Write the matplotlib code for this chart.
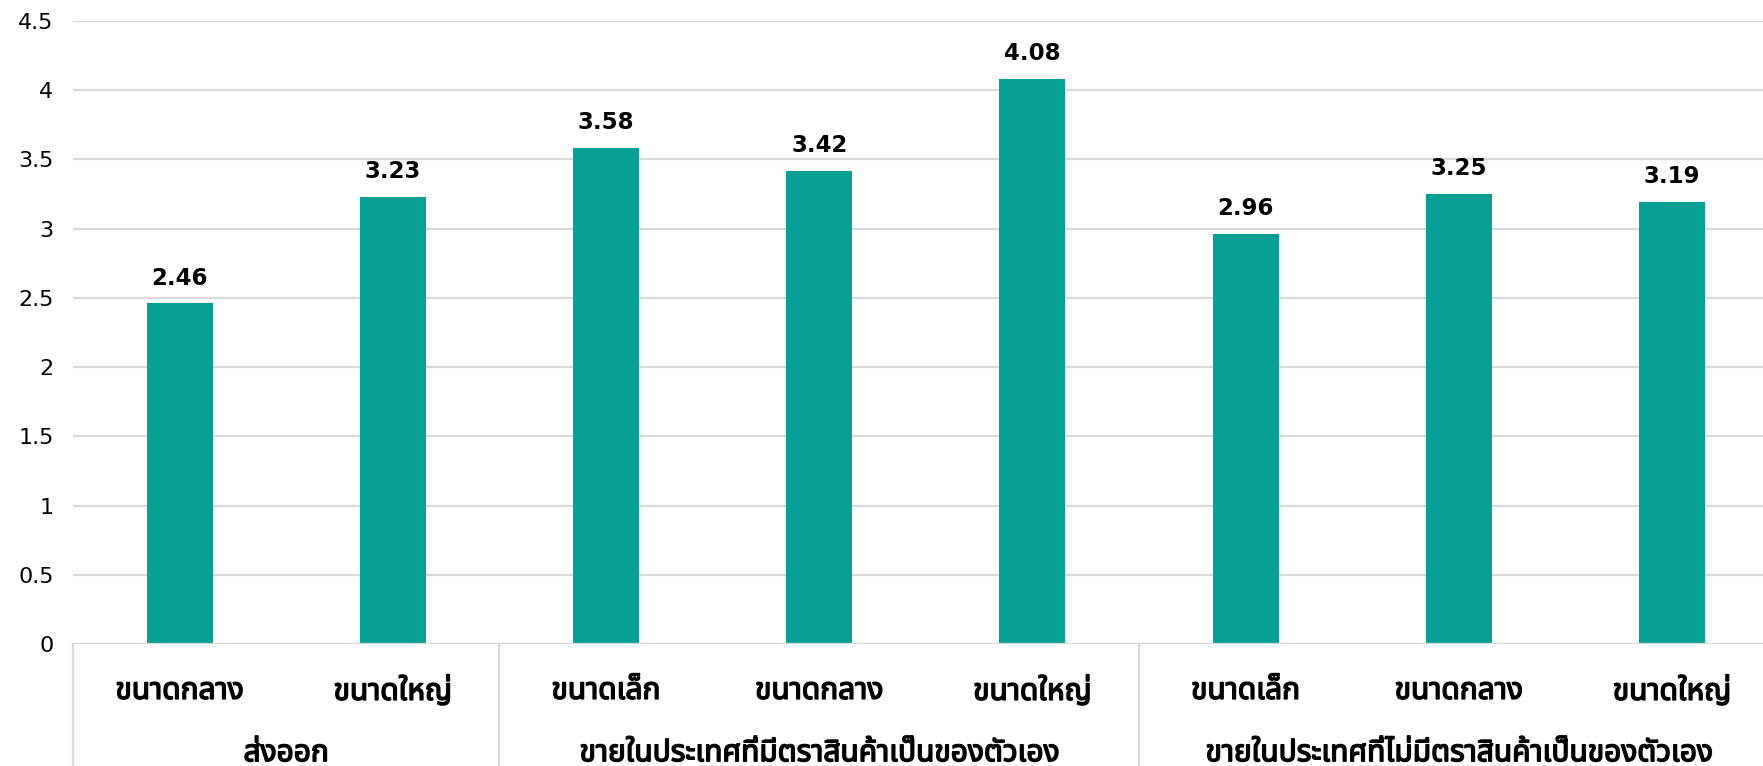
import numpy as np
import matplotlib
matplotlib.use("Agg")
import matplotlib.pyplot as plt
import matplotlib.patheffects as pe
from matplotlib import font_manager, ft2font
from matplotlib.transforms import blended_transform_factory

# data
groups = ["ส่งออก", "ขายในประเทศที่มีตราสินค้าเป็นของตัวเอง", "ขายในประเทศที่ไม่มีตราสินค้าเป็นของตัวเอง"]
group_sizes = [2, 3, 3]
sizes = ["ขนาดกลาง", "ขนาดใหญ่", "ขนาดเล็ก", "ขนาดกลาง", "ขนาดใหญ่", "ขนาดเล็ก", "ขนาดกลาง", "ขนาดใหญ่"]
values = [2.46, 3.23, 3.58, 3.42, 4.08, 2.96, 3.25, 3.19]
yticks = [0, 0.5, 1, 1.5, 2, 2.5, 3, 3.5, 4, 4.5]

TEAL = "#07A094"
GRID = "#D9D9D9"


def thai_family():
    # pick any installed family that actually has Thai glyphs
    names = []
    for f in font_manager.fontManager.ttflist:
        try:
            cm = ft2font.FT2Font(f.fname).get_charmap()
        except Exception:
            continue
        if 0x0E02 in cm:
            names.append(f.name)
    for pref in ["Noto Sans Thai", "Noto Sans Thai UI", "Loma", "Garuda", "Sarabun"]:
        if pref in names:
            return pref
    return names[0] if names else "DejaVu Sans"


TH = thai_family()
BOLD = [pe.withStroke(linewidth=1.1, foreground="black")]  # thai font has no bold face

fig = plt.figure(figsize=(17.63, 7.66), dpi=100, facecolor="white")
ax = fig.add_axes([73/1763, 122/766, 1705.6/1763, 623/766])

x = np.arange(len(values))
ax.bar(x, values, width=0.31, color=TEAL, zorder=3)
for xi, v in zip(x, values):
    ax.annotate(f"{v:.2f}", (xi, v), xytext=(0, 10), textcoords="offset points",
                ha="center", va="bottom", fontsize=16.5, fontweight="bold", color="black")

ax.set_xlim(-0.5, len(values) - 0.5)
ax.set_ylim(0, 4.5)
ax.set_yticks(yticks)
ax.set_yticklabels([f"{t:g}" for t in yticks], fontsize=16)
ax.tick_params(axis="y", length=0, pad=14)
ax.set_xticks([])
ax.yaxis.grid(True, color=GRID, lw=1.6, zorder=0)
for s in ["top", "right", "left", "bottom"]:
    ax.spines[s].set_visible(False)
ax.axhline(0, color=GRID, lw=1.6, zorder=4)

trans = blended_transform_factory(ax.transData, ax.transAxes)
# size labels
for xi, lab in zip(x, sizes):
    ax.text(xi, -0.076, lab, transform=trans, ha="center", va="center",
            fontsize=21.5, family=[TH, "DejaVu Sans"], path_effects=BOLD)
# group labels and separators
bounds = np.concatenate([[0], np.cumsum(group_sizes)]) - 0.5
for b in bounds:
    ax.plot([b, b], [0, -0.3], transform=trans, color=GRID, lw=1.6, clip_on=False)
for g, lo, hi in zip(groups, bounds[:-1], bounds[1:]):
    ax.text((lo + hi) / 2, -0.176, g, transform=trans, ha="center", va="center",
            fontsize=21.5, family=[TH, "DejaVu Sans"], path_effects=BOLD)

fig.savefig("out.png", dpi=100, facecolor="white")
